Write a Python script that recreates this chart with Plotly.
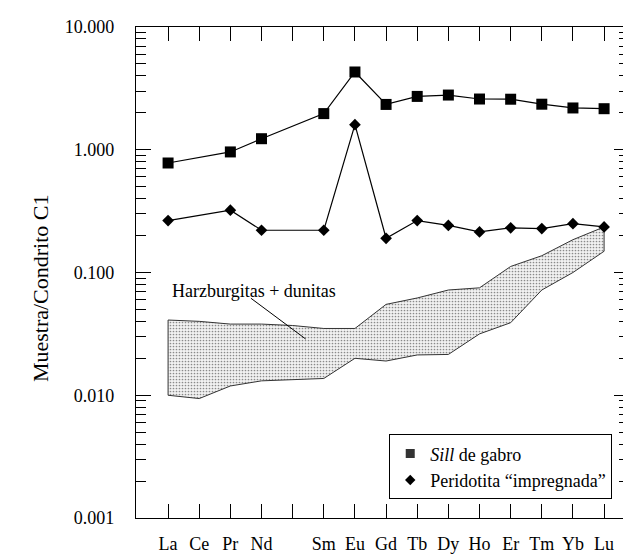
import plotly.graph_objects as go

# ---- data ----
elements = ["La", "Ce", "Pr", "Nd", "Pm", "Sm", "Eu", "Gd", "Tb", "Dy", "Ho", "Er", "Tm", "Yb", "Lu"]
tick_labels = ["La", "Ce", "Pr", "Nd", "", "Sm", "Eu", "Gd", "Tb", "Dy", "Ho", "Er", "Tm", "Yb", "Lu"]

sill_gabro = [0.78, None, 0.96, 1.23, None, 1.97, 4.3, 2.34, 2.72, 2.79, 2.59, 2.58, 2.35, 2.19, 2.16]
peridotita = [0.265, None, 0.322, 0.221, None, 0.221, 1.6, 0.19, 0.265, 0.242, 0.214, 0.231, 0.228, 0.25, 0.235]

harz_upper = [0.041, 0.040, 0.038, 0.038, 0.037, 0.035, 0.035, 0.055, 0.062, 0.072, 0.075, 0.112, 0.137, 0.185, 0.235]
harz_lower = [0.010, 0.0094, 0.0119, 0.0131, 0.0134, 0.0137, 0.020, 0.019, 0.0213, 0.0215, 0.0316, 0.039, 0.072, 0.100, 0.149]

y_tickvals = [0.001, 0.01, 0.1, 1, 10]
y_ticktext = ["0.001", "0.010", "0.100", "1.000", "10.000"]

label_text = "Harzburgitas + dunitas"
label_pos = (2.76, 0.0713)
leader_x = [2.66, 4.42]
leader_y = [0.0617, 0.0287]

FONT = "Liberation Serif"

xs = list(range(len(elements)))

def pts(vals):
    px, py = [], []
    for x, v in zip(xs, vals):
        if v is not None:
            px.append(x)
            py.append(v)
    return px, py

fig = go.Figure()

# shaded field
poly_x = xs + xs[::-1] + [xs[0]]
poly_y = harz_upper + harz_lower[::-1] + [harz_upper[0]]
fig.add_trace(go.Scatter(
    x=poly_x, y=poly_y, mode="lines", fill="toself",
    line=dict(color="#333333", width=1),
    fillcolor="rgba(0,0,0,0)",
    fillpattern=dict(shape=".", size=3, solidity=0.25, fgcolor="#8a8a8a", bgcolor="#f2f2f2", fillmode="replace"),
    showlegend=False, hoverinfo="skip"))

# leader line
fig.add_trace(go.Scatter(x=leader_x, y=leader_y, mode="lines",
                         line=dict(color="black", width=1), showlegend=False, hoverinfo="skip"))

sx, sy = pts(sill_gabro)
fig.add_trace(go.Scatter(x=sx, y=sy, mode="lines+markers",
                         line=dict(color="black", width=1.2),
                         marker=dict(symbol="square", size=11, color="black"),
                         showlegend=False))
px_, py_ = pts(peridotita)
fig.add_trace(go.Scatter(x=px_, y=py_, mode="lines+markers",
                         line=dict(color="black", width=1.2),
                         marker=dict(symbol="diamond", size=9, color="black"),
                         showlegend=False))

# legend entries
fig.add_trace(go.Scatter(x=[None], y=[None], mode="markers", name="<i>Sill</i> de gabro",
                         marker=dict(symbol="square", size=9, color="#333333")))
fig.add_trace(go.Scatter(x=[None], y=[None], mode="markers", name="Peridotita \u201cimpregnada\u201d",
                         marker=dict(symbol="diamond", size=8, color="black")))

minor_vals = [m * 10 ** e for e in range(-3, 1) for m in range(2, 10)]

fig.update_layout(
    width=631, height=555,
    margin=dict(l=128, r=9, t=16, b=34),
    paper_bgcolor="white", plot_bgcolor="white",
    font=dict(family=FONT, size=18, color="black"),
    legend=dict(x=0.966, y=0.038, xanchor="right", yanchor="bottom",
                bgcolor="white", bordercolor="black", borderwidth=1,
                font=dict(family=FONT, size=18), itemwidth=30, tracegroupgap=0),
    xaxis=dict(range=[-1.03, 14.8], tickmode="array", tickvals=xs, ticktext=tick_labels,
               ticks="inside", ticklen=14, tickwidth=1, tickcolor="black",
               tickfont=dict(family=FONT, size=18),
               showline=True, linecolor="black", linewidth=1.2, mirror="ticks",
               showgrid=False, zeroline=False, ticklabelstandoff=9),
    yaxis=dict(type="log", range=[-3, 1], tickmode="array", tickvals=y_tickvals, ticktext=y_ticktext,
               ticks="inside", ticklen=15, tickwidth=1, tickcolor="black",
               tickfont=dict(family=FONT, size=18),
               showline=True, linecolor="black", linewidth=1.2, mirror="ticks",
               showgrid=False, zeroline=False, ticklabelstandoff=17,
               minor=dict(tickmode="array", tickvals=minor_vals, ticks="inside",
                          ticklen=10, tickwidth=1, tickcolor="black", showgrid=False)),
    annotations=[
        dict(text=label_text, x=label_pos[0], y=-1.147, xref="x", yref="y",
             showarrow=False, font=dict(family=FONT, size=18), xanchor="center", yanchor="middle"),
        dict(text="Muestra/Condrito C1", x=-0.194, y=0.469, xref="paper", yref="paper",
             showarrow=False, textangle=-90, font=dict(family=FONT, size=22), xanchor="center", yanchor="middle"),
    ],
)

fig.write_html("out.html")
